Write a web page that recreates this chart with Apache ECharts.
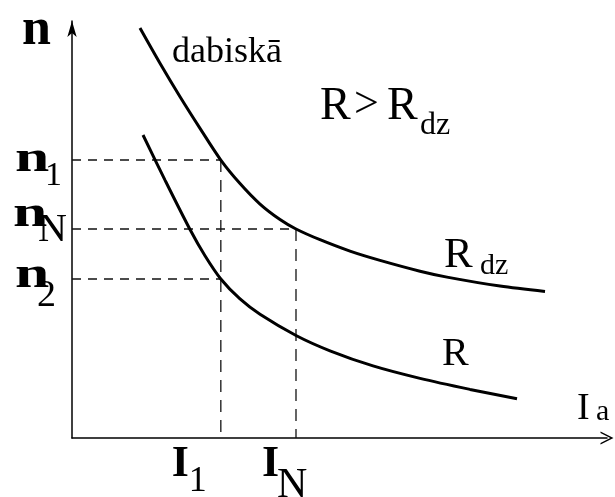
<!DOCTYPE html>
<html><head><meta charset="utf-8">
<script src="https://cdn.jsdelivr.net/npm/echarts@6/dist/echarts.min.js"></script>
<style>html,body{margin:0;padding:0;background:#fff}#c{width:615px;height:497px}</style>
</head><body><div id="c"></div>
<script>
// natural characteristic (R_dz)
const upperI = [12.58,16.28,19.99,23.69,27.54,31.09,34.79,38.49,41.45,45.89,51.44,57.00,64.40,69.39,79.20,87.53];
const upperN = [96.36,88.08,80.21,72.78,65.33,59.81,54.99,51.35,49.12,46.60,43.92,41.74,39.20,37.81,35.70,34.43];
// artificial characteristic (R > R_dz)
const lowerI = [13.14,17.21,21.84,24.61,27.54,31.09,34.79,41.45,47.74,55.70,64.40,73.65,82.35];
const lowerN = [71.21,60.61,49.00,42.83,37.37,32.67,29.07,24.09,20.49,16.94,14.01,11.42,9.21];
// reference values
const iTicks = [27.54, 41.45];          // I1, IN
const iTickSubs = ['1', 'N'];
const nTicks = [65.33, 49.12, 37.37];   // n1, nN, n2
const nTickSubs = ['1', 'N', '2'];
const nTickIEnds = [27.54, 41.45, 27.54];
const iTickNTops = [65.33, 49.12];

const chart = echarts.init(document.getElementById('c'), null, {renderer: 'canvas'});
const zip = (a, b) => a.map((v, i) => [v, b[i]]);
const BLACK = '#000';
const series = [
  {type: 'line', data: zip(upperI, upperN), smooth: 0.3, symbol: 'none',
   lineStyle: {color: BLACK, width: 3}, z: 5},
  {type: 'line', data: zip(lowerI, lowerN), smooth: 0.3, symbol: 'none',
   lineStyle: {color: BLACK, width: 3}, z: 5}
];
nTicks.forEach((n, k) => series.push({
  type: 'line', data: [[0, n], [nTickIEnds[k], n]], symbol: 'none',
  lineStyle: {color: '#111', width: 1.3, type: [9, 7]}, z: 3
}));
iTicks.forEach((I, k) => series.push({
  type: 'line', data: [[I, iTickNTops[k]], [I, 0]], symbol: 'none',
  lineStyle: {color: '#111', width: 1.3, type: [12, 8]}, z: 3
}));

chart.setOption({
  animation: false,
  backgroundColor: '#fff',
  grid: {left: 72, right: 8, top: 21, bottom: 59},
  xAxis: {type: 'value', min: 0, max: 99,
    axisLine: {show: true, onZero: false, lineStyle: {color: BLACK, width: 1.5},
      symbol: ['none', 'path://M0,12 L6,0 L12,12 L10.6,12 L6,3 L1.4,12 Z'], symbolSize: [16, 13]},
    axisTick: {show: false}, axisLabel: {show: false}, splitLine: {show: false}},
  yAxis: {type: 'value', min: 0, max: 98,
    axisLine: {show: true, onZero: false, lineStyle: {color: BLACK, width: 1.5},
      symbol: ['none', 'arrow'], symbolSize: [7, 16]},
    axisTick: {show: false}, axisLabel: {show: false}, splitLine: {show: false}},
  series: series
});

const FONT = '"Liberation Serif", "Times New Roman", serif';
function txt(s, x, base, size, bold, sx) {
  return {type: 'text', x: x, y: base - 0.28 * size, scaleX: sx || 1, z: 10,
    style: {text: s, font: (bold ? 'bold ' : '') + size + 'px ' + FONT, fill: BLACK,
      textAlign: 'left', textVerticalAlign: 'middle'}};
}
const px = p => chart.convertToPixel({gridIndex: 0}, p);
const g = [];
// axis names
g.push(txt('n', 22, 45, 52, true));
g.push(txt('I', 577, 420, 38, false));
g.push(txt('a', 596, 421, 30, false));
// n tick labels
const nMainX = [15, 13, 15], nBaseOff = [12, -2, 9];
const nSubX = [45, 38, 37], nSubOff = [26, 13, 28], nSubSize = [34, 40, 38];
nTicks.forEach((n, k) => {
  const y = px([0, n])[1];
  g.push(txt('n', nMainX[k], y + nBaseOff[k], 44, true, 1.4));
  g.push(txt(nTickSubs[k], nSubX[k], y + nSubOff[k], nSubSize[k], false));
});
// I tick labels
const iSubSize = [36, 42], iSubDx = [17, 15], iSubBase = [492, 498];
iTicks.forEach((I, k) => {
  const x = px([I, 0])[0];
  g.push(txt('I', x - 49 + (k ? 15 : 0), 477, 44, true));
  g.push(txt(iTickSubs[k], x - 49 + (k ? 15 : 0) + iSubDx[k], iSubBase[k], iSubSize[k], false));
});
// curve annotations
g.push(txt('dabiskā', 172, 63, 36, false));
g.push(txt('R', 320, 120, 46, false));
g.push(txt('>', 354, 118, 44, false));
g.push(txt('R', 387, 120, 46, false));
g.push(txt('dz', 420, 135, 32, false));
g.push(txt('R', 444, 268, 43, false));
g.push(txt('dz', 480, 275, 30, false));
g.push(txt('R', 442, 366, 40, false));
chart.setOption({graphic: g});
</script></body></html>
